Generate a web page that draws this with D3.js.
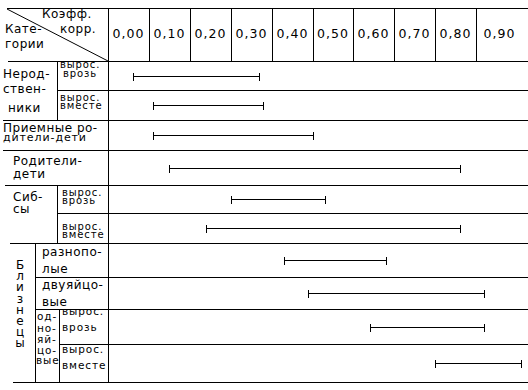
<!DOCTYPE html>
<html>
<head>
<meta charset="utf-8">
<script src="https://cdn.jsdelivr.net/npm/d3@7"></script>
<style>
  body { margin: 0; background: #fff; }
  svg { display: block; font-family: "DejaVu Sans", sans-serif; }
  .grid line, .bars line { stroke: #000; stroke-width: 1; shape-rendering: crispEdges; }
  text { fill: #000; }
</style>
</head>
<body>
<div class="chart"></div>
<script>
// Коэффициенты корреляции: нижняя и верхняя граница по каждой категории
const categories = [
  "Неродственники, выросли врозь", "Неродственники, выросли вместе",
  "Приемные родители-дети", "Родители-дети",
  "Сибсы, выросли врозь", "Сибсы, выросли вместе",
  "Близнецы разнополые", "Близнецы двуяйцовые",
  "Близнецы однояйцовые, выросли врозь", "Близнецы однояйцовые, выросли вместе"
]
const lowValues = [0.01, 0.06, 0.06, 0.10, 0.25, 0.19, 0.38, 0.44, 0.59, 0.75]
const highValues = [0.32, 0.33, 0.45, 0.81, 0.48, 0.81, 0.63, 0.87, 0.87, 0.96]
const tickValues = [0, 0.1, 0.2, 0.3, 0.4, 0.5, 0.6, 0.7, 0.8, 0.9]

const data = categories.map((c, i) => ({ cat: c, lo: lowValues[i], hi: highValues[i] }))

// layout of the table
const W = 528, H = 390
const topY = 8, headBottom = 61, left = 108
const rowHeights = [29, 30, 30, 35, 28, 30, 34, 32, 35, 38]
const rowStarts = [8, 57, 3, 3, 5, 57, 10, 35, 35, 59, 13] // left end of each horizontal rule
const rowTops = [headBottom]
rowHeights.forEach(h => rowTops.push(rowTops[rowTops.length - 1] + h))

const svg = d3.select(".chart").append("svg").attr("width", W).attr("height", H)

const x = d3.scaleLinear().domain([-0.05, 0.95]).range([left, 517])
const y = d3.scaleOrdinal().domain(categories).range(rowHeights.map((h, i) => rowTops[i] + h / 2))

const fmt = v => d3.format(".2f")(v).replace(".", ",")

// grid
const grid = svg.append("g").attr("class", "grid")
grid.append("line").attr("x1", 7).attr("x2", W).attr("y1", topY + 0.5).attr("y2", topY + 0.5)
grid.selectAll(".hrule").data(rowTops).join("line")
  .attr("class", "hrule")
  .attr("x1", (d, i) => rowStarts[i]).attr("x2", W)
  .attr("y1", d => d + 0.5).attr("y2", d => d + 0.5)
grid.append("line").attr("x1", left + 0.5).attr("x2", left + 0.5).attr("y1", topY).attr("y2", rowTops[10])
grid.selectAll(".col").data(tickValues.slice(1)).join("line")
  .attr("class", "col")
  .attr("x1", d => Math.round(x(d - 0.05)) + 0.5).attr("x2", d => Math.round(x(d - 0.05)) + 0.5)
  .attr("y1", topY).attr("y2", headBottom)
// sub-columns on the left side
const subCols = [[57, rowTops[0], rowTops[2]], [57, rowTops[4], rowTops[6]], [35, rowTops[6], rowTops[10]], [59, rowTops[8], rowTops[10]]]
grid.selectAll(".sub").data(subCols).join("line")
  .attr("class", "sub")
  .attr("x1", d => d[0] + 0.5).attr("x2", d => d[0] + 0.5)
  .attr("y1", d => d[1]).attr("y2", d => d[2])
svg.append("line").attr("x1", 7).attr("y1", 9).attr("x2", left).attr("y2", headBottom)
  .attr("stroke", "#000").attr("stroke-width", 1)

// header tick labels
svg.selectAll(".tick-label").data(tickValues).join("text")
  .attr("class", "tick-label")
  .attr("x", d => (Math.round(x(d - 0.05)) + (d === 0.9 ? 523 : Math.round(x(d + 0.05)))) / 2)
  .attr("y", 38)
  .attr("text-anchor", "middle")
  .attr("font-size", 12.5)
  .attr("letter-spacing", 1)
  .text(fmt)

// row labels
const labels = [
  ["Коэфф.", 42, 18, 12], ["корр.", 60, 33, 12], ["Кате-", 5, 33, 12], ["гории", 5, 48, 12],
  ["Нерод-", 3, 78, 12], ["ствен-", 3, 93, 12], ["ники", 8, 112, 12],
  ["вырос.", 60, 68, 10], ["врозь", 63, 77, 10], ["вырос.", 60, 101, 10], ["вместе", 60, 109, 10],
  ["Приемные ро-", 3, 132, 12], ["дители-дети", 3, 141, 11],
  ["Родители-", 13, 165, 12], ["дети", 13, 178, 12],
  ["Сиб-", 13, 201, 12], ["сы", 13, 213, 12],
  ["вырос.", 62, 196, 10], ["врозь", 62, 204, 10], ["вырос.", 62, 230, 10], ["вместе", 62, 238, 10],
  ["разнопо-", 42, 256, 12], ["лые", 42, 273, 12], ["двуяйцо-", 42, 289, 12], ["вые", 42, 306, 12],
  ["од-", 37, 320, 10.5], ["но-", 37, 332, 10.5], ["яй-", 37, 343, 10.5], ["цо-", 37, 354, 10.5], ["вые", 36, 364, 10.5],
  ["вырос.", 62, 315, 10.5], ["врозь", 62, 331, 10.5], ["вырос.", 62, 353, 10.5], ["вместе", 62, 369, 10.5]
]
svg.selectAll(".label").data(labels).join("text")
  .attr("class", "label")
  .attr("x", d => d[1]).attr("y", d => d[2])
  .attr("font-size", d => d[3])
  .attr("letter-spacing", d => d[3] < 12 ? 0.9 : 0.5)
  .text(d => d[0])

svg.selectAll(".vert").data("Близнецы".split("")).join("text")
  .attr("class", "vert")
  .attr("x", 20).attr("y", (d, i) => 269 + i * 11.2)
  .attr("text-anchor", "middle")
  .attr("font-size", 12)
  .text(d => d)

// interval bars
const bars = svg.append("g").attr("class", "bars")
const rows = bars.selectAll("g").data(data).join("g")
  .attr("transform", d => `translate(0, ${Math.round(y(d.cat)) + 0.5})`)
rows.append("line").attr("x1", d => x(d.lo)).attr("x2", d => x(d.hi)).attr("y1", 0).attr("y2", 0)
rows.append("line").attr("x1", d => Math.round(x(d.lo)) + 0.5).attr("x2", d => Math.round(x(d.lo)) + 0.5).attr("y1", -4).attr("y2", 4)
rows.append("line").attr("x1", d => Math.round(x(d.hi)) + 0.5).attr("x2", d => Math.round(x(d.hi)) + 0.5).attr("y1", -4).attr("y2", 4)
</script>
</body>
</html>
